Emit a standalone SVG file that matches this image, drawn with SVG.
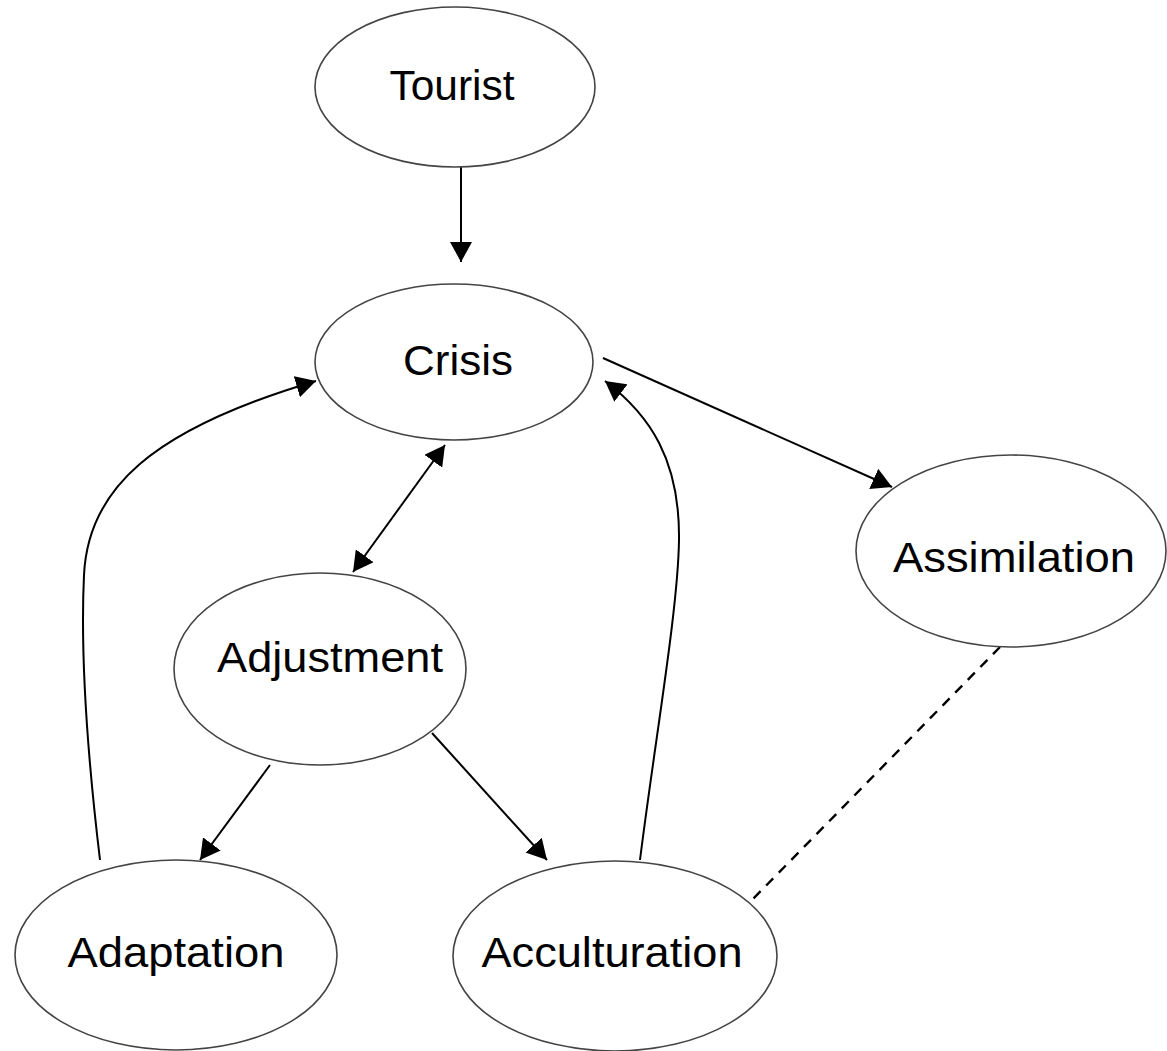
<svg xmlns="http://www.w3.org/2000/svg" width="1167" height="1051" viewBox="0 0 1167 1051">
<style>
.node ellipse{fill:#fff;stroke:#444;stroke-width:1.6}
.node text{font-family:"Liberation Sans",Arial,sans-serif;font-size:42px;fill:#000;text-anchor:middle}
.edge{fill:none;stroke:#000;stroke-width:2}
.dash{stroke-dasharray:10 8;stroke-width:2.4}
</style>
<defs>
<marker id="ah" viewBox="0 0 20 22" refX="20" refY="11" markerWidth="20" markerHeight="22" markerUnits="userSpaceOnUse" orient="auto-start-reverse">
<path d="M0,0 L20,11 L0,22 z" fill="#000"/>
</marker>
</defs>
<rect width="1167" height="1051" fill="#fff"/>
<g id="connectors">
<path class="edge" d="M461,167 L461,262" marker-end="url(#ah)"/>
<path class="edge" d="M603,358 L892,487" marker-end="url(#ah)"/>
<path class="edge" d="M445,445 L353,572" marker-start="url(#ah)" marker-end="url(#ah)"/>
<path class="edge" d="M270,765 L200,860" marker-end="url(#ah)"/>
<path class="edge" d="M432,733 L547,860" marker-end="url(#ah)"/>
<path class="edge" d="M100,860 C88,760 80,660 84,575 C88,490 150,430 316,381" marker-end="url(#ah)"/>
<path class="edge" d="M640,860 C655,740 678,610 679,540 C680,460 650,415 605,381" marker-end="url(#ah)"/>
<path class="edge dash" d="M1000,647 L750,902"/>
</g>
<g id="tourist" class="node">
<ellipse cx="455" cy="87" rx="140" ry="80"/>
<text x="452" y="100" textLength="125" lengthAdjust="spacingAndGlyphs">Tourist</text>
</g>
<g id="crisis" class="node">
<ellipse cx="454" cy="362" rx="139" ry="78"/>
<text x="458" y="375" textLength="110" lengthAdjust="spacingAndGlyphs">Crisis</text>
</g>
<g id="assimilation" class="node">
<ellipse cx="1011" cy="551" rx="155" ry="96"/>
<text x="1014" y="572" textLength="242" lengthAdjust="spacingAndGlyphs">Assimilation</text>
</g>
<g id="adjustment" class="node">
<ellipse cx="320" cy="669" rx="146" ry="96"/>
<text x="330" y="672" textLength="226" lengthAdjust="spacingAndGlyphs">Adjustment</text>
</g>
<g id="adaptation" class="node">
<ellipse cx="176" cy="955" rx="161" ry="95"/>
<text x="176" y="967" textLength="217" lengthAdjust="spacingAndGlyphs">Adaptation</text>
</g>
<g id="acculturation" class="node">
<ellipse cx="615" cy="956" rx="162" ry="95"/>
<text x="612" y="967" textLength="261" lengthAdjust="spacingAndGlyphs">Acculturation</text>
</g>
</svg>
